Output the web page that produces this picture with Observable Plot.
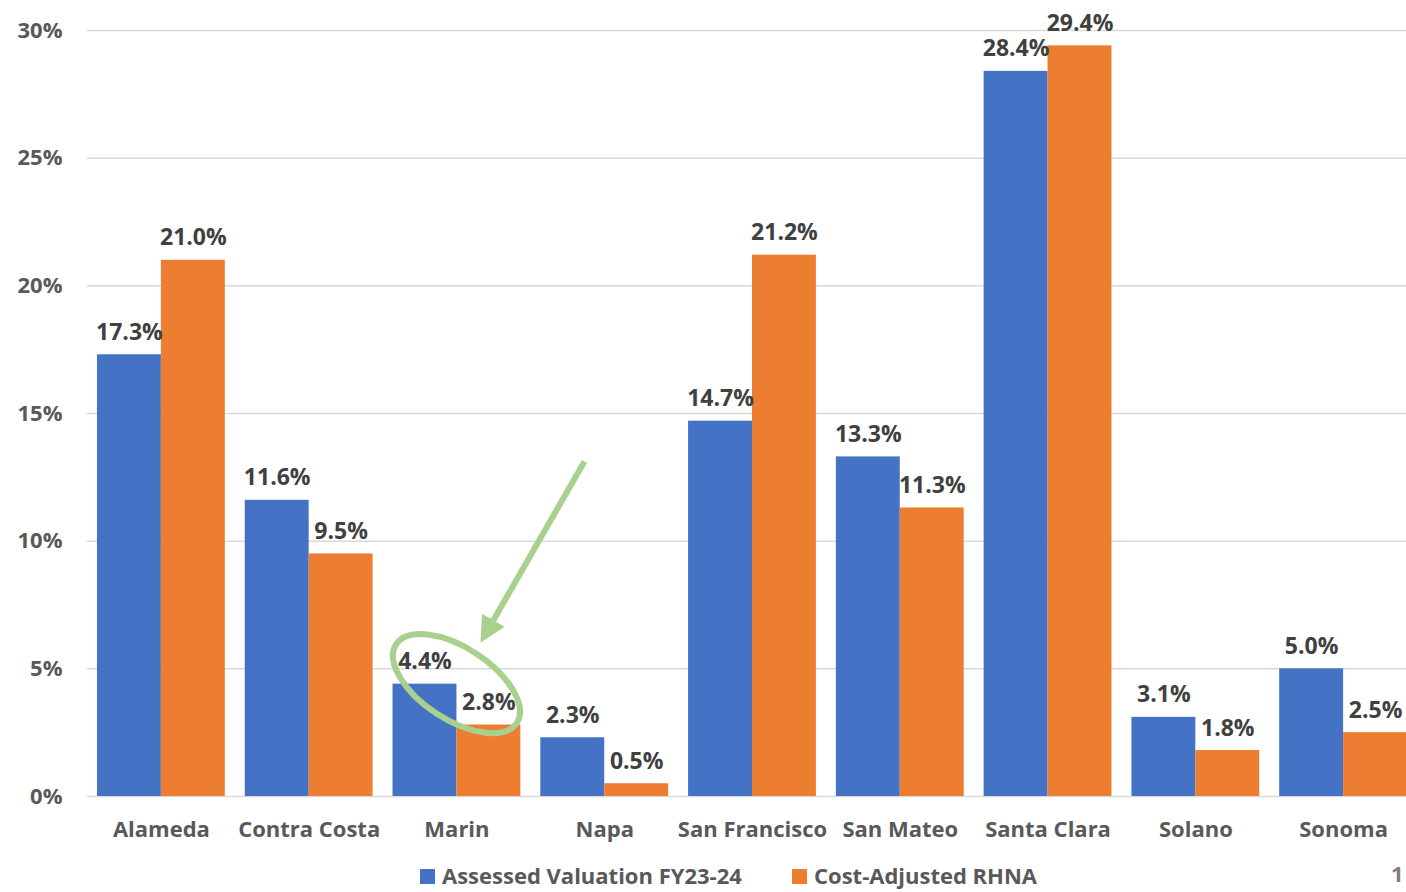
<!DOCTYPE html>
<html>
<head>
<meta charset="utf-8">
<script src="https://cdn.jsdelivr.net/npm/d3@7"></script>
<script src="https://cdn.jsdelivr.net/npm/@observablehq/plot@0.6"></script>
<style>
  html, body { margin: 0; padding: 0; background: #fff; overflow: hidden; width: 1406px; height: 892px; }
  #wrap { position: relative; width: 1406px; height: 892px; overflow: hidden; font-family: "Open Sans", sans-serif; }
  #chart svg { max-width: none !important; }
  #legend { position: absolute; left: 0; top: 860px; width: 1406px; height: 30px; font-weight: 700; font-size: 22px; color: #595959; }
  .item { position: absolute; top: 0; white-space: nowrap; line-height: 30px; }
  .sw { display: inline-block; width: 15px; height: 15px; margin-right: 7px; vertical-align: 0px; }
  #page { position: absolute; left: 1391px; top: 858px; font-weight: 700; font-size: 22px; line-height: 30px; color: #7f7f7f; }
</style>
</head>
<body>
<div id="wrap"><div id="chart"></div><div id="legend"></div><div id="page">1</div></div>
<script>
const categories = ["Alameda", "Contra Costa", "Marin", "Napa", "San Francisco", "San Mateo", "Santa Clara", "Solano", "Sonoma"];
const assessed = [17.3, 11.6, 4.4, 2.3, 14.7, 13.3, 28.4, 3.1, 5.0];
const rhna = [21.0, 9.5, 2.8, 0.5, 21.2, 11.3, 29.4, 1.8, 2.5];
const seriesNames = ["Assessed Valuation FY23-24", "Cost-Adjusted RHNA"];
const seriesColors = ["#4472C4", "#ED7D31"];
const yTicks = [0, 5, 10, 15, 20, 25, 30];
const highlight = "Marin";

const rowsA = categories.map((c, i) => ({category: c, series: seriesNames[0], value: assessed[i]}));
const rowsB = categories.map((c, i) => ({category: c, series: seriesNames[1], value: rhna[i]}));

const W = 1417, H = 858, mL = 87, mR = 0, mT = 30, mB = 62;
const step = (W - mL - mR) / categories.length;
const half = step * (1 - 0.135) / 2;

const chart = Plot.plot({
  width: W,
  height: H,
  marginLeft: mL,
  marginRight: mR,
  marginTop: mT,
  marginBottom: mB,
  style: {fontFamily: "Open Sans", fontSize: "22px", fontWeight: 700, color: "#595959", background: "white", overflow: "visible", maxWidth: "none"},
  x: {domain: categories, paddingInner: 0.135, paddingOuter: 0.0675, round: false, label: null, tickSize: 0, tickPadding: 25},
  y: {domain: [0, 30], ticks: yTicks, tickFormat: d => d + "%", label: null, tickSize: 0, tickPadding: 25},
  marks: [
    Plot.ruleY(yTicks, {stroke: "#d9d9d9", strokeWidth: 1.5}),
    Plot.barY(rowsA, {x: "category", y: "value", fill: seriesColors[0], insetRight: half, insetLeft: 0}),
    Plot.barY(rowsB, {x: "category", y: "value", fill: seriesColors[1], insetLeft: half, insetRight: 0}),
    Plot.text(rowsA, {x: "category", y: "value", text: d => d.value.toFixed(1) + "%", dx: -half / 2, dy: -15, lineAnchor: "bottom", fill: "#404040", fontSize: 23, fontWeight: 700}),
    Plot.text(rowsB, {x: "category", y: "value", text: d => d.value.toFixed(1) + "%", dx: half / 2, dy: -15, lineAnchor: "bottom", fill: "#404040", fontSize: 23, fontWeight: 700})
  ]
});
chart.style.maxWidth = "none";
document.getElementById("chart").appendChild(chart);

// annotation: ellipse + arrow around the highlighted category, anchored via the chart's scales
const xs = chart.scale("x"), ys = chart.scale("y");
const cx = xs.apply(highlight) + xs.bandwidth / 2;
const hi = categories.indexOf(highlight);
const cy = ys.apply(assessed[hi]);
const svg = d3.select(chart);
const g = svg.append("g").attr("fill", "none").attr("stroke", "#A9D18E").attr("stroke-width", 6);
g.append("ellipse").attr("cx", cx).attr("cy", cy).attr("rx", 72).attr("ry", 36)
  .attr("transform", `rotate(33 ${cx} ${cy})`);
const tipX = cx + 24, tipY = ys.apply(6.0);
const tailX = cx + 128, tailY = ys.apply(13.1);
const ang = Math.atan2(tipY - tailY, tipX - tailX);
const hl = 26, hw = 13;
const bx = tipX - hl * Math.cos(ang), by = tipY - hl * Math.sin(ang);
g.append("line").attr("x1", tailX).attr("y1", tailY).attr("x2", bx).attr("y2", by).attr("stroke-linecap", "butt");
g.append("path")
  .attr("d", `M${tipX},${tipY} L${bx + hw * Math.sin(ang)},${by - hw * Math.cos(ang)} L${bx - hw * Math.sin(ang)},${by + hw * Math.cos(ang)} Z`)
  .attr("fill", "#A9D18E").attr("stroke", "none");

// legend
const legend = document.getElementById("legend");
const lefts = [420, 792];
seriesNames.forEach((name, i) => {
  const it = document.createElement("div");
  it.className = "item";
  it.style.left = lefts[i] + "px";
  it.innerHTML = `<span class="sw" style="background:${seriesColors[i]}"></span>${name}`;
  legend.appendChild(it);
});
</script>
</body>
</html>
